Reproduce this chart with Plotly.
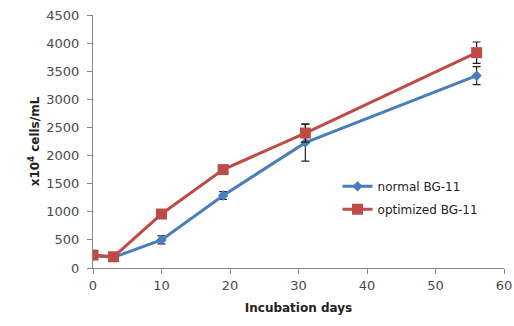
import plotly.graph_objects as go

days = [0, 3, 10, 19, 31, 56]
normal = [220, 190, 500, 1290, 2230, 3420]
normal_err = [0, 0, 70, 70, 330, 160]
optimized = [230, 200, 960, 1750, 2400, 3830]
optimized_err = [0, 0, 0, 0, 160, 190]

blue = "#4A7EBB"
red = "#BE4B48"

fig = go.Figure()
fig.add_trace(go.Scatter(
    x=days, y=normal, name="normal BG-11", mode="lines+markers", legendgroup="normal",
    line=dict(color=blue, width=3),
    marker=dict(symbol="diamond", size=8, color=blue),
    error_y=dict(type="data", array=normal_err, color="#222222", thickness=1.2, width=4),
))
fig.add_trace(go.Scatter(
    x=days, y=optimized, name="optimized BG-11", mode="lines+markers", legendgroup="optimized",
    line=dict(color=red, width=3),
    marker=dict(symbol="square", size=11, color=red),
    error_y=dict(type="data", array=optimized_err, color="#222222", thickness=1.2, width=4),
))

fig.update_layout(
    width=514, height=326,
    margin=dict(l=93, r=10, t=15, b=58, autoexpand=False),
    paper_bgcolor="white", plot_bgcolor="white",
    font=dict(family="DejaVu Sans", size=13, color="#4a4a4a"),
    showlegend=True,
    legend=dict(x=0.595, y=0.38, xanchor="left", yanchor="top",
                bgcolor="rgba(0,0,0,0)", font=dict(size=12, color="#222222"),
                tracegroupgap=4, itemwidth=30),
)
fig.update_xaxes(
    range=[0, 60], dtick=10, showgrid=False, zeroline=False, automargin=False,
    showline=True, linecolor="#868686", linewidth=1,
    ticks="outside", ticklen=5, tickcolor="#868686",
    title=dict(text="<b>Incubation days</b>", font=dict(size=12, color="#222222"), standoff=12),
)
fig.update_yaxes(
    range=[0, 4500], dtick=500, showgrid=False, zeroline=False, automargin=False,
    showline=True, linecolor="#868686", linewidth=1,
    ticks="outside", ticklen=5, tickcolor="#868686", ticklabelstandoff=5,
    title=dict(text="<b>x10<sup>4</sup> cells/mL</b>", font=dict(size=12, color="#222222"), standoff=4),
)

fig.write_html("out.html")
